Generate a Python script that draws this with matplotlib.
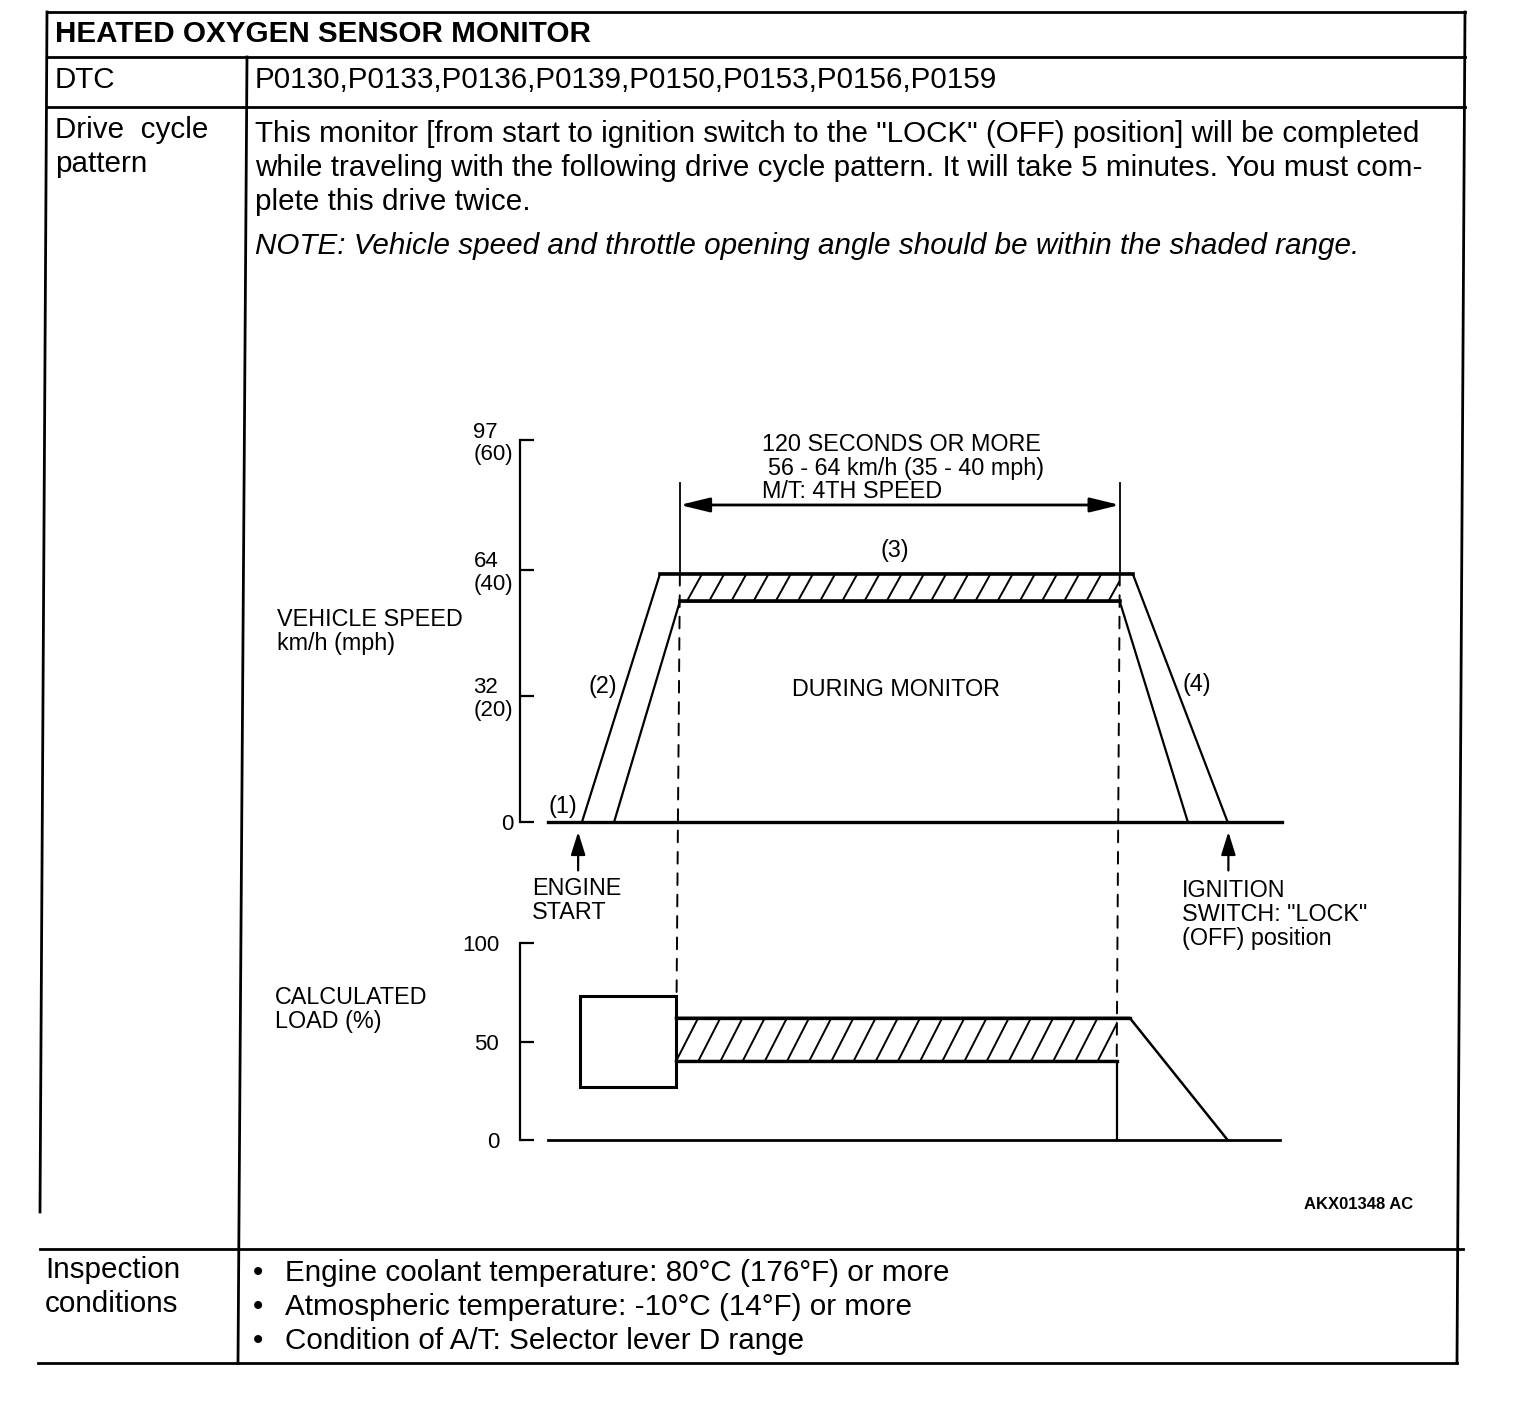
import numpy as np
import matplotlib
matplotlib.use("Agg")
import matplotlib.pyplot as plt
from matplotlib.patches import Rectangle, ConnectionPatch

plt.rcParams['font.family'] = ['Liberation Sans', 'DejaVu Sans']

# ---------------- data ----------------
# time axis: arbitrary units 0..100 across the chart width
speed_ticks = [0, 32, 64, 97]
speed_tick_labels = ['0', '32\n(20)', '64\n(40)', '97\n(60)']
load_ticks = [0, 50, 100]
load_tick_labels = ['0', '50', '100']

speed_outer_t = [8.1, 18.3, 80.1, 92.5]
speed_outer_v = [0, 63, 63, 0]
speed_inner_t = [12.3, 20.9, 78.4, 87.3]
speed_inner_v = [0, 56, 56, 0]
speed_base_t = [3.7, 99.6]
monitor_t = [20.9, 78.4]          # hatched (monitor) window on speed chart
monitor_v = [56, 63]

load_box_t = [7.8, 20.4]
load_box_v = [27, 73]
load_band_t = [20.4, 78.0]
load_band_v = [40, 62]
load_top_t = [20.4, 79.7, 92.5]
load_top_v = [62, 62, 0]
load_bottom_t = [20.4, 78.0, 78.0]
load_bottom_v = [40, 40, 0]
load_base_t = [3.7, 99.3]

engine_start_t = 7.6
ignition_off_t = 92.6

body_lines = [
    'This monitor [from start to ignition switch to the "LOCK" (OFF) position] will be completed',
    'while traveling with the following drive cycle pattern. It will take 5 minutes. You must com-',
    'plete this drive twice.',
]
note_line = 'NOTE: Vehicle speed and throttle opening angle should be within the shaded range.'
dtc_codes = ['P0130', 'P0133', 'P0136', 'P0139', 'P0150', 'P0153', 'P0156', 'P0159']
inspection_items = [
    'Engine coolant temperature: 80°C (176°F) or more',
    'Atmospheric temperature: -10°C (14°F) or more',
    'Condition of A/T: Selector lever D range',
]

# ---------------- figure ----------------
W, H = 1536, 1428
fig = plt.figure(figsize=(W / 100, H / 100), dpi=100)
ax0 = fig.add_axes([0, 0, 1, 1])
ax0.set_xlim(0, W)
ax0.set_ylim(H, 0)
ax0.axis('off')

K = 'black'
tlw = 2.0
# table frame
for (x1, y1, x2, y2) in [(47, 12, 1465, 12), (47, 57, 1465, 57), (47, 107, 1465, 107),
                         (40, 1249, 1463, 1249), (38, 1363, 1457, 1363),
                         (47, 12, 40, 1212), (247, 57, 238, 1363), (1465, 12, 1457, 1363)]:
    ax0.plot([x1, x2], [y1, y2], color=K, lw=tlw, solid_capstyle='projecting')

FS = 21.3
ax0.text(55, 42, 'HEATED OXYGEN SENSOR MONITOR', fontsize=FS, fontweight='bold', va='baseline')
ax0.text(55, 88, 'DTC', fontsize=FS, va='baseline')
ax0.text(255, 88, ','.join(dtc_codes), fontsize=FS, va='baseline')
ax0.text(55, 138, 'Drive  cycle', fontsize=FS, va='baseline')
ax0.text(55, 172, 'pattern', fontsize=FS, va='baseline')
for i, ln in enumerate(body_lines):
    ax0.text(255, 142 + 34 * i, ln, fontsize=FS, va='baseline')
ax0.text(255, 254, note_line, fontsize=FS, va='baseline', style='italic')
ax0.text(45, 1278, 'Inspection', fontsize=FS, va='baseline')
ax0.text(45, 1312, 'conditions', fontsize=FS, va='baseline')
for i, item in enumerate(inspection_items):
    ax0.text(253, 1281 + 34 * i, '•', fontsize=FS, va='baseline')
    ax0.text(285, 1281 + 34 * i, item, fontsize=FS, va='baseline')
ax0.text(1413, 1209, 'AKX01348 AC', fontsize=12, fontweight='bold', ha='right', va='baseline')

# ---------------- chart axes ----------------
X0, X1 = 520, 1285
def add_chart(ytop, ybot, ylim):
    ax = fig.add_axes([X0 / W, 1 - ybot / H, (X1 - X0) / W, (ybot - ytop) / H])
    ax.set_xlim(0, 100)
    ax.set_ylim(*ylim)
    for s in ['top', 'right', 'bottom']:
        ax.spines[s].set_visible(False)
    ax.spines['left'].set_linewidth(1.6)
    ax.set_xticks([])
    ax.patch.set_alpha(0)
    return ax

CFS = 16.8
ax1 = add_chart(440, 822, (0, 97))
ax1.set_yticks(speed_ticks)
ax1.set_yticklabels(speed_tick_labels, fontsize=16, linespacing=1.1)
ax1.tick_params(axis='y', direction='in', length=10, width=1.6, pad=5)
for lbl in ax1.get_yticklabels():
    lbl.set_multialignment('left')

ax2 = add_chart(943, 1140, (0, 100))
ax2.set_yticks(load_ticks)
ax2.set_yticklabels(load_tick_labels, fontsize=16)
ax2.tick_params(axis='y', direction='in', length=10, width=1.6, pad=15)

def hatch(ax, tx, vy, spacing, shift, lw=1.4):
    rect = Rectangle((tx[0], vy[0]), tx[1] - tx[0], vy[1] - vy[0], fill=False, lw=0)
    ax.add_patch(rect)
    for xs in np.arange(tx[0] - shift, tx[1] + spacing, spacing):
        ln, = ax.plot([xs, xs + shift], [vy[0], vy[1]], color=K, lw=lw, clip_on=True)
        ln.set_clip_path(rect)

# speed chart
ax1.plot(speed_base_t, [0, 0], color=K, lw=2.4, clip_on=False)
ax1.plot(speed_outer_t, speed_outer_v, color=K, lw=1.6, clip_on=False)
ax1.plot(speed_outer_t[1:3], speed_outer_v[1:3], color=K, lw=2.6, clip_on=False)
ax1.plot(speed_inner_t, speed_inner_v, color=K, lw=1.6, clip_on=False)
ax1.plot(speed_inner_t[1:3], speed_inner_v[1:3], color=K, lw=2.6, clip_on=False)
hatch(ax1, monitor_t, monitor_v, 2.9, 2.0)
# dimension lines
for t in monitor_t:
    ax1.plot([t, t], [monitor_v[1], 86], color=K, lw=1.3, clip_on=False)
ax1.annotate('', xy=(monitor_t[0], 80.5), xytext=(monitor_t[1], 80.5),
             arrowprops=dict(arrowstyle='<|-|>,head_length=0.9,head_width=0.22', lw=2.0,
                             color=K, shrinkA=0, shrinkB=0, mutation_scale=20),
             annotation_clip=False)

# load chart
ax2.plot(load_base_t, [0, 0], color=K, lw=2.0, clip_on=False)
ax2.add_patch(Rectangle((load_box_t[0], load_box_v[0]), load_box_t[1] - load_box_t[0],
                        load_box_v[1] - load_box_v[0], fill=False, lw=2.2, ec=K))
ax2.plot(load_top_t, load_top_v, color=K, lw=1.8, clip_on=False)
ax2.plot(load_top_t[:2], load_top_v[:2], color=K, lw=2.4, clip_on=False)
ax2.plot(load_bottom_t, load_bottom_v, color=K, lw=1.6, clip_on=False)
ax2.plot(load_bottom_t[:2], load_bottom_v[:2], color=K, lw=2.4, clip_on=False)
hatch(ax2, load_band_t, load_band_v, 2.9, 2.9)

# dashed monitor boundaries linking the two charts
for ts, tl in zip(monitor_t, [load_band_t[0], load_band_t[1]]):
    cp = ConnectionPatch(xyA=(ts, monitor_v[1]), coordsA=ax1.transData,
                         xyB=(tl, load_band_v[0]), coordsB=ax2.transData,
                         color=K, lw=1.4, linestyle=(0, (6, 5)))
    fig.add_artist(cp)

# event arrows
for t in [engine_start_t, ignition_off_t]:
    ax1.annotate('', xy=(t, -2.5), xytext=(t, -12.3),
                 arrowprops=dict(arrowstyle='-|>,head_length=0.7,head_width=0.22', lw=1.6,
                                 color=K, shrinkA=0, shrinkB=0, mutation_scale=20),
                 annotation_clip=False)

# chart labels (pixel coords)
def lab(x, y, s, **kw):
    ax0.text(x, y, s, fontsize=CFS, va='baseline', **kw)

lab(762, 451, '120 SECONDS OR MORE')
lab(768, 475, '56 - 64 km/h (35 - 40 mph)')
lab(762, 498, 'M/T: 4TH SPEED')
lab(895, 557, '(3)', ha='center')
lab(277, 626, 'VEHICLE SPEED')
lab(277, 650, 'km/h (mph)')
lab(603, 693, '(2)', ha='center')
lab(896, 696, 'DURING MONITOR', ha='center')
lab(1197, 691, '(4)', ha='center')
lab(563, 813, '(1)', ha='center')
lab(532, 895, 'ENGINE')
lab(532, 919, 'START')
lab(1182, 897, 'IGNITION')
lab(1182, 921, 'SWITCH: "LOCK"')
lab(1182, 945, '(OFF) position')
lab(275, 1004, 'CALCULATED')
lab(275, 1028, 'LOAD (%)')

fig.savefig('out.png', dpi=100, facecolor='white')
